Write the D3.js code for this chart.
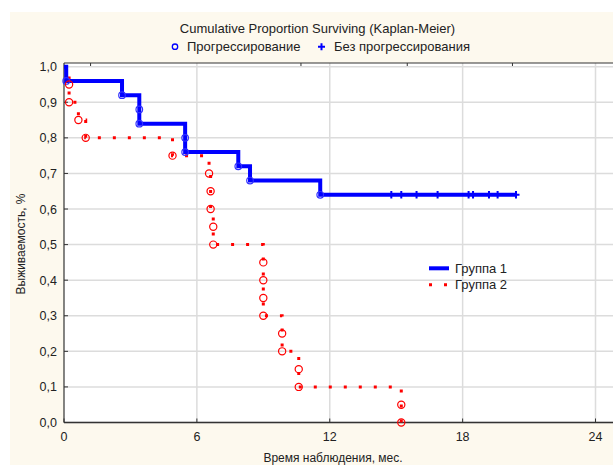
<!DOCTYPE html>
<html><head><meta charset="utf-8">
<script src="https://cdn.jsdelivr.net/npm/d3@7"></script>
<style>html,body{margin:0;padding:0;background:#fff;}svg{display:block;font-family:"Liberation Sans",Arial,sans-serif;}</style>
</head><body>
<svg id="c" width="613" height="465"></svg>
<script>
// ---- data ----
const xTicks = [0, 6, 12, 18, 24];
const yTicks = [0, 0.1, 0.2, 0.3, 0.4, 0.5, 0.6, 0.7, 0.8, 0.9, 1.0];
const topMinorTicks = [1.2, 10.7, 15.5, 20.25];
const seriesNames = ["Группа 1", "Группа 2"];
// Group 1: event (progression) times and survival after each event
const g1EventTimes = [0.1, 2.62, 3.4, 3.4, 5.47, 5.47, 7.87, 8.4, 11.57];
const g1EventSurv  = [0.96, 0.92, 0.88, 0.84, 0.80, 0.76, 0.72, 0.68, 0.64];
const g1CensorTimes = [14.78, 15.23, 15.92, 16.87, 18.27, 18.47, 19.19, 19.58, 20.41];
const g1LastTime = 20.45;
// Group 2
const g2EventTimes = [0.23, 0.23, 0.65, 0.98, 4.9, 6.55, 6.62, 6.62, 6.74, 6.74, 9.0, 9.0, 9.0, 9.0, 9.85, 9.85, 10.6, 10.6, 15.23, 15.23];
const g2EventSurv  = [0.95, 0.90, 0.85, 0.80, 0.75, 0.70, 0.65, 0.60, 0.55, 0.50, 0.45, 0.40, 0.35, 0.30, 0.25, 0.20, 0.15, 0.10, 0.05, 0.00];

// ---- drawing ----
(function () {
const svg = d3.select("#c");
const W = 613, H = 465;
const pL = 64, pT = 63, pB = 422.5, pR = 640;
const x = d3.scaleLinear().domain([0, 24]).range([pL, 595.5]);
const y = d3.scaleLinear().domain([0, 1]).range([pB, 66.7]);
const BLUE = "#0000ff", RED = "#ff0000";
const fmt = v => d3.format(".1f")(v).replace(".", ",");

svg.append("rect").attr("x", 10).attr("y", 12).attr("width", W - 10).attr("height", H - 12).attr("fill", "#fdf9ee");
svg.append("rect").attr("x", pL).attr("y", pT).attr("width", pR - pL).attr("height", pB - pT).attr("fill", "#fff");

// gridlines
svg.append("g").selectAll("line").data(yTicks).join("line")
  .attr("x1", pL).attr("x2", pR).attr("y1", d => y(d)).attr("y2", d => y(d))
  .attr("stroke", "#dcdcdc").attr("stroke-width", 1.5);
svg.append("g").selectAll("line").data(xTicks.filter(d => d > 0)).join("line")
  .attr("x1", d => x(d)).attr("x2", d => x(d)).attr("y1", pT).attr("y2", pB)
  .attr("stroke", "#dcdcdc").attr("stroke-width", 1.5);

// frame
svg.append("line").attr("x1", pL).attr("x2", pR).attr("y1", pT).attr("y2", pT).attr("stroke", "#333").attr("stroke-width", 1.2);
svg.append("line").attr("x1", pL).attr("x2", pL).attr("y1", pT).attr("y2", pB).attr("stroke", "#333").attr("stroke-width", 1.2);
svg.append("line").attr("x1", pL).attr("x2", pR).attr("y1", pB).attr("y2", pB).attr("stroke", "#333").attr("stroke-width", 1.5);

// ticks
svg.append("g").selectAll("line").data(yTicks).join("line")
  .attr("x1", pL).attr("x2", pL + 4).attr("y1", d => y(d)).attr("y2", d => y(d)).attr("stroke", "#333");
svg.append("g").selectAll("line").data(xTicks).join("line")
  .attr("x1", d => x(d)).attr("x2", d => x(d)).attr("y1", pB).attr("y2", pB - 4).attr("stroke", "#333");
svg.append("g").selectAll("line").data(topMinorTicks).join("line")
  .attr("x1", d => x(d)).attr("x2", d => x(d)).attr("y1", pT).attr("y2", pT + 3).attr("stroke", "#333");

// tick labels
svg.append("g").selectAll("text").data(yTicks).join("text")
  .attr("x", 57).attr("y", d => y(d) + 4.5).attr("text-anchor", "end")
  .attr("font-size", 12.5).attr("fill", "#222").text(fmt);
svg.append("g").selectAll("text").data(xTicks).join("text")
  .attr("x", d => x(d)).attr("y", 441).attr("text-anchor", "middle")
  .attr("font-size", 12.5).attr("fill", "#222").text(d => d);

// axis titles
svg.append("text").attr("transform", "translate(25,244) rotate(-90)").attr("text-anchor", "middle")
  .attr("font-size", 12).attr("fill", "#222").text("Выживаемость, %");
svg.append("text").attr("x", 333).attr("y", 462).attr("text-anchor", "middle")
  .attr("font-size", 12).attr("fill", "#222").text("Время наблюдения, мес.");

// title & marker legend
svg.append("text").attr("x", 317.5).attr("y", 32.5).attr("text-anchor", "middle")
  .attr("font-size", 13).attr("fill", "#222").text("Cumulative Proportion Surviving (Kaplan-Meier)");
svg.append("circle").attr("cx", 175).attr("cy", 46.7).attr("r", 2.7).attr("fill", "none").attr("stroke", BLUE).attr("stroke-width", 1.3);
svg.append("text").attr("x", 187).attr("y", 51.2).attr("font-size", 13).attr("fill", "#222").text("Прогрессирование");
svg.append("path").attr("d", "M318,46.7H325M321.5,43.2V50.2").attr("stroke", BLUE).attr("stroke-width", 2);
svg.append("text").attr("x", 334).attr("y", 51.2).attr("font-size", 13).attr("fill", "#222").text("Без прогрессирования");

// step path builder
function stepPoints(times, surv, lastTime) {
  const pts = [[0, 1]];
  let prev = 1;
  times.forEach((t, i) => { pts.push([t, prev]); pts.push([t, surv[i]]); prev = surv[i]; });
  if (lastTime !== undefined) pts.push([lastTime, prev]);
  return pts;
}
const line = d3.line().x(d => x(d[0])).y(d => y(d[1]));

// Group 2 (red dotted)
svg.append("path").attr("d", line(stepPoints(g2EventTimes, g2EventSurv)))
  .attr("fill", "none").attr("stroke", RED).attr("stroke-width", 3)
  .attr("stroke-dasharray", "3 12").attr("stroke-linejoin", "miter");

// Group 1 (blue thick)
svg.append("path").attr("d", line(stepPoints(g1EventTimes, g1EventSurv, g1LastTime)))
  .attr("fill", "none").attr("stroke", BLUE).attr("stroke-width", 4).attr("stroke-linejoin", "miter");

// event circles
svg.append("g").selectAll("circle").data(g1EventTimes.map((t, i) => [t, g1EventSurv[i]])).join("circle")
  .attr("cx", d => x(d[0])).attr("cy", d => y(d[1])).attr("r", 3.3)
  .attr("fill", "none").attr("stroke", "#3030ff").attr("stroke-width", 1.2);
svg.append("g").selectAll("circle").data(g2EventTimes.map((t, i) => [t, g2EventSurv[i]])).join("circle")
  .attr("cx", d => x(d[0])).attr("cy", d => y(d[1])).attr("r", 3.6)
  .attr("fill", "none").attr("stroke", RED).attr("stroke-width", 1.2);

// censored marks group 1
svg.append("g").selectAll("path").data(g1CensorTimes).join("path")
  .attr("d", d => `M${x(d) - 3.5},${y(0.64)}H${x(d) + 3.5}M${x(d)},${y(0.64) - 3.8}V${y(0.64) + 3.8}`)
  .attr("stroke", BLUE).attr("stroke-width", 2);

// series legend
const lg = svg.append("g");
lg.append("line").attr("x1", 429).attr("x2", 449).attr("y1", 268.3).attr("y2", 268.3).attr("stroke", BLUE).attr("stroke-width", 4);
lg.append("line").attr("x1", 429).attr("x2", 449).attr("y1", 284.7).attr("y2", 284.7).attr("stroke", RED).attr("stroke-width", 3).attr("stroke-dasharray", "3 12");
lg.selectAll("text").data(seriesNames).join("text")
  .attr("x", 455).attr("y", (d, i) => 273 + i * 16.4).attr("font-size", 13).attr("fill", "#222").text(d => d);
})();
</script>
</body></html>
